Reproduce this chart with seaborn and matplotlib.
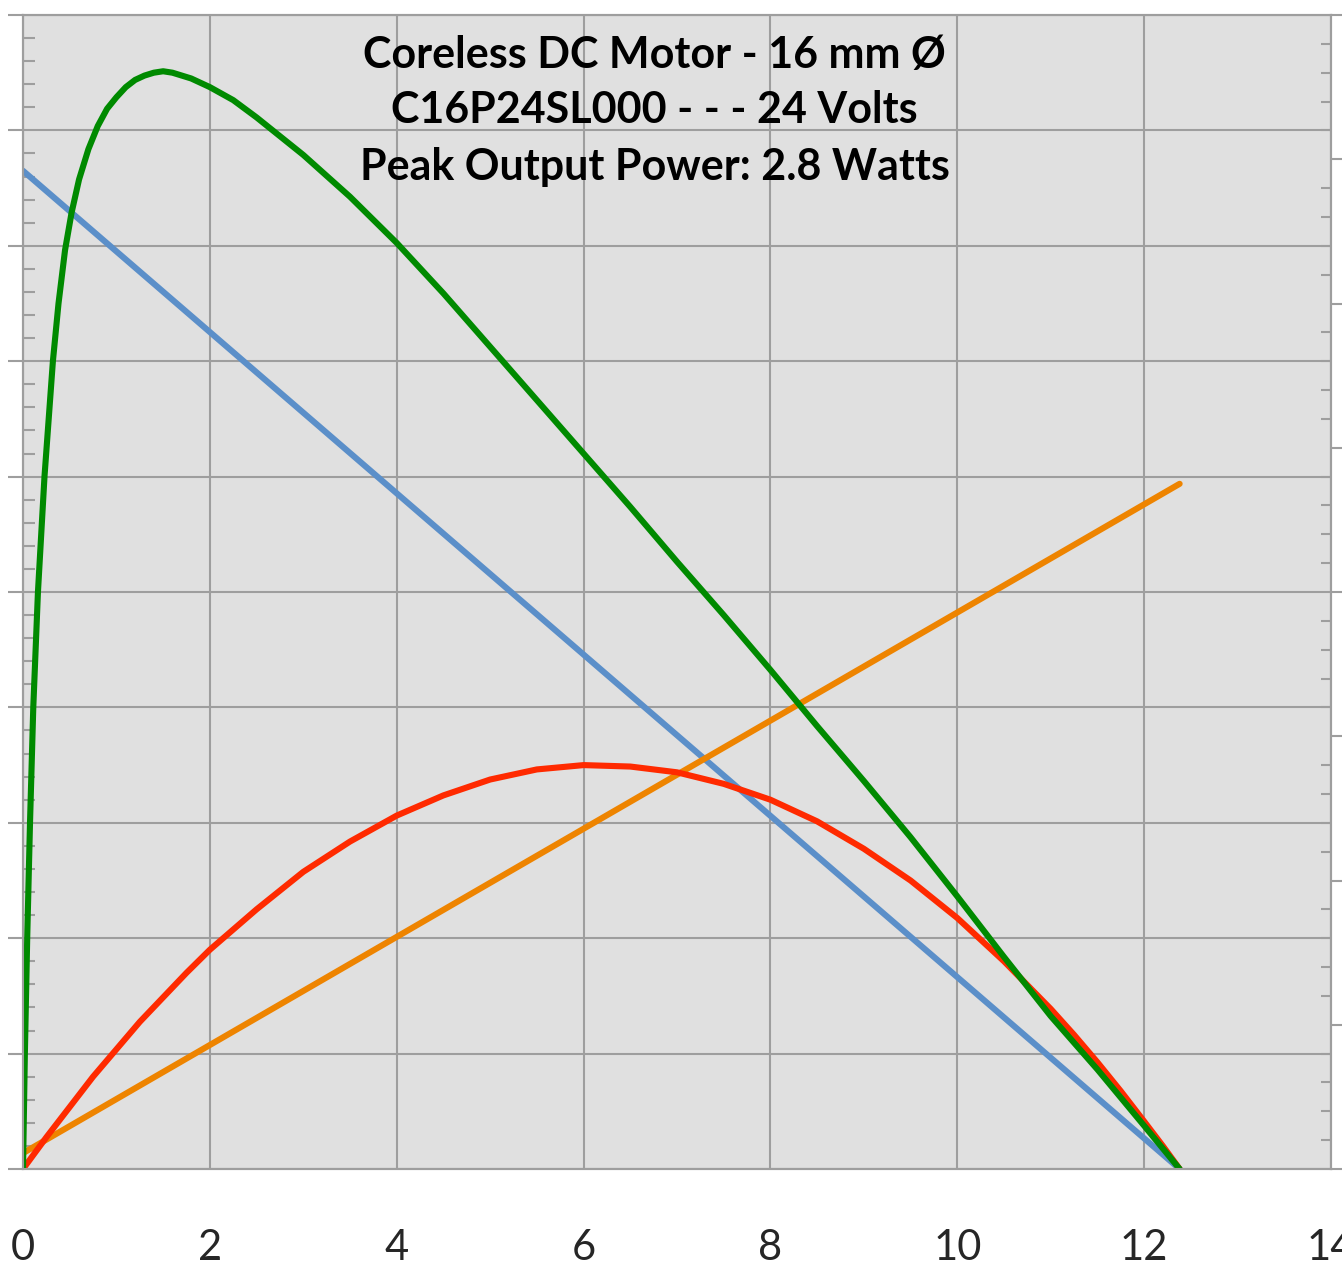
import pandas as pd
import matplotlib
matplotlib.use("Agg")
import matplotlib.pyplot as plt
import seaborn as sns
from matplotlib.ticker import MultipleLocator

# Curvas do motor (torque no eixo x)
torque_speed = [0.0, 12.38]
speed_rpm = [8650, 0]

torque_current = [0.0, 12.38]
current = [0.11, 4.75]

torque_power = [0.0, 0.25, 0.5, 0.75, 1.0, 1.25, 1.5, 1.75, 2.0, 2.5, 3.0, 3.5, 4.0,
                4.5, 5.0, 5.5, 6.0, 6.5, 7.0, 7.5, 8.0, 8.5, 9.0, 9.5, 10.0, 10.5,
                11.0, 11.25, 11.5, 11.75, 12.0, 12.2, 12.38]
power_w = [0.0, 0.22, 0.43, 0.64, 0.83, 1.02, 1.19, 1.36, 1.52, 1.80, 2.06, 2.27, 2.45,
           2.59, 2.70, 2.77, 2.80, 2.79, 2.75, 2.67, 2.56, 2.41, 2.22, 2.00, 1.74, 1.44,
           1.11, 0.93, 0.74, 0.54, 0.33, 0.16, 0.0]

torque_eff = [0.0, 0.02, 0.045, 0.075, 0.11, 0.16, 0.23, 0.32, 0.38, 0.45, 0.52,
              0.6, 0.7, 0.8, 0.9, 1.0, 1.1, 1.2, 1.3, 1.4, 1.5, 1.6, 1.7, 1.8, 1.9,
              2.0, 2.25, 2.5, 3.0, 3.5, 4.0, 4.5, 5.0, 5.5, 6.0, 6.5, 7.0, 7.5, 8.0,
              8.5, 9.0, 9.5, 10.0, 10.5, 11.0, 11.5, 12.0, 12.38]
efficiency = [0.0, 0.8, 1.6, 2.4, 3.2, 4.0, 4.8, 5.6, 6.0, 6.37, 6.63,
              6.86, 7.07, 7.23, 7.35, 7.43, 7.50, 7.55, 7.58, 7.60, 7.61, 7.60, 7.58, 7.56, 7.53,
              7.50, 7.41, 7.29, 7.03, 6.74, 6.42, 6.07, 5.70, 5.33, 4.96, 4.59, 4.21, 3.84, 3.46,
              3.07, 2.69, 2.30, 1.89, 1.47, 1.06, 0.69, 0.30, 0.0]

x_ticks = [0, 2, 4, 6, 8, 10, 12, 14]
title_lines = ["Coreless DC Motor - 16 mm Ø",
               "C16P24SL000 - - - 24 Volts",
               "Peak Output Power: 2.8 Watts"]

sns.set_style("white")
plt.rcParams["font.family"] = ["Lato", "DejaVu Sans"]

GRID = "#9e9e9e"
BG = "#e0e0e0"
LW = 4.4

fig = plt.figure(figsize=(13.42, 12.65), dpi=100)
ax = fig.add_axes([23 / 1342, 96 / 1265, 1308 / 1342, 1154 / 1265])
ax.set_facecolor(BG)

df_speed = pd.DataFrame({"torque": torque_speed, "val": speed_rpm})
sns.lineplot(data=df_speed, x="torque", y="val", ax=ax, color="#5b8fc9",
             linewidth=LW, solid_capstyle="round")

ax.set_xlim(0, 14)
ax.set_ylim(0, 10000)
ax.xaxis.set_minor_locator(MultipleLocator(0.4))
ax.yaxis.set_major_locator(MultipleLocator(1000))
ax.yaxis.set_minor_locator(MultipleLocator(200))
ax.set_xticks(x_ticks)
ax.set_xticklabels([str(t) for t in x_ticks])
ax.grid(True, which="major", color=GRID, lw=1.5)
ax.set_axisbelow(True)
ax.set_xlabel("")
ax.set_ylabel("")

ax.tick_params(axis="x", which="major", direction="out", length=11, width=1.5,
               color=GRID, labelsize=30, pad=32)
ax.tick_params(axis="x", which="minor", direction="in", length=8, width=1.5, color=GRID)
ax.tick_params(axis="y", which="major", direction="out", length=11, width=1.5,
               color=GRID, labelleft=False)
ax.tick_params(axis="y", which="minor", direction="in", length=8.5, width=1.5, color=GRID)

for s in ax.spines.values():
    s.set_color(GRID)
    s.set_linewidth(1.5)

ax2 = ax.twinx()
ax2.patch.set_visible(False)
df_cur = pd.DataFrame({"torque": torque_current, "val": current})
df_pow = pd.DataFrame({"torque": torque_power, "val": power_w})
df_eff = pd.DataFrame({"torque": torque_eff, "val": efficiency})
sns.lineplot(data=df_cur, x="torque", y="val", ax=ax2, color="#ee8400",
             linewidth=LW, solid_capstyle="round")
sns.lineplot(data=df_pow, x="torque", y="val", ax=ax2, color="#ff2a00",
             linewidth=LW, solid_joinstyle="round")
sns.lineplot(data=df_eff, x="torque", y="val", ax=ax2, color="#008a00",
             linewidth=LW, solid_joinstyle="round")
ax2.set_ylim(0, 8)
ax2.yaxis.set_major_locator(MultipleLocator(1))
ax2.yaxis.set_minor_locator(MultipleLocator(0.2))
ax2.tick_params(axis="y", which="major", direction="out", length=8, width=1.5,
                color=GRID, labelright=False)
ax2.tick_params(axis="y", which="minor", direction="in", length=7.5, width=1.5, color=GRID)
ax2.set_ylabel("")
for s in ax2.spines.values():
    s.set_color(GRID)
    s.set_linewidth(1.5)

for line, yb in zip(title_lines, [0.9541, 0.9064, 0.857]):
    ax.text(0.483, yb, line, transform=ax.transAxes, ha="center", va="baseline",
            fontsize=31, fontweight="bold", color="black", zorder=10)

fig.savefig("out.png", dpi=100)
